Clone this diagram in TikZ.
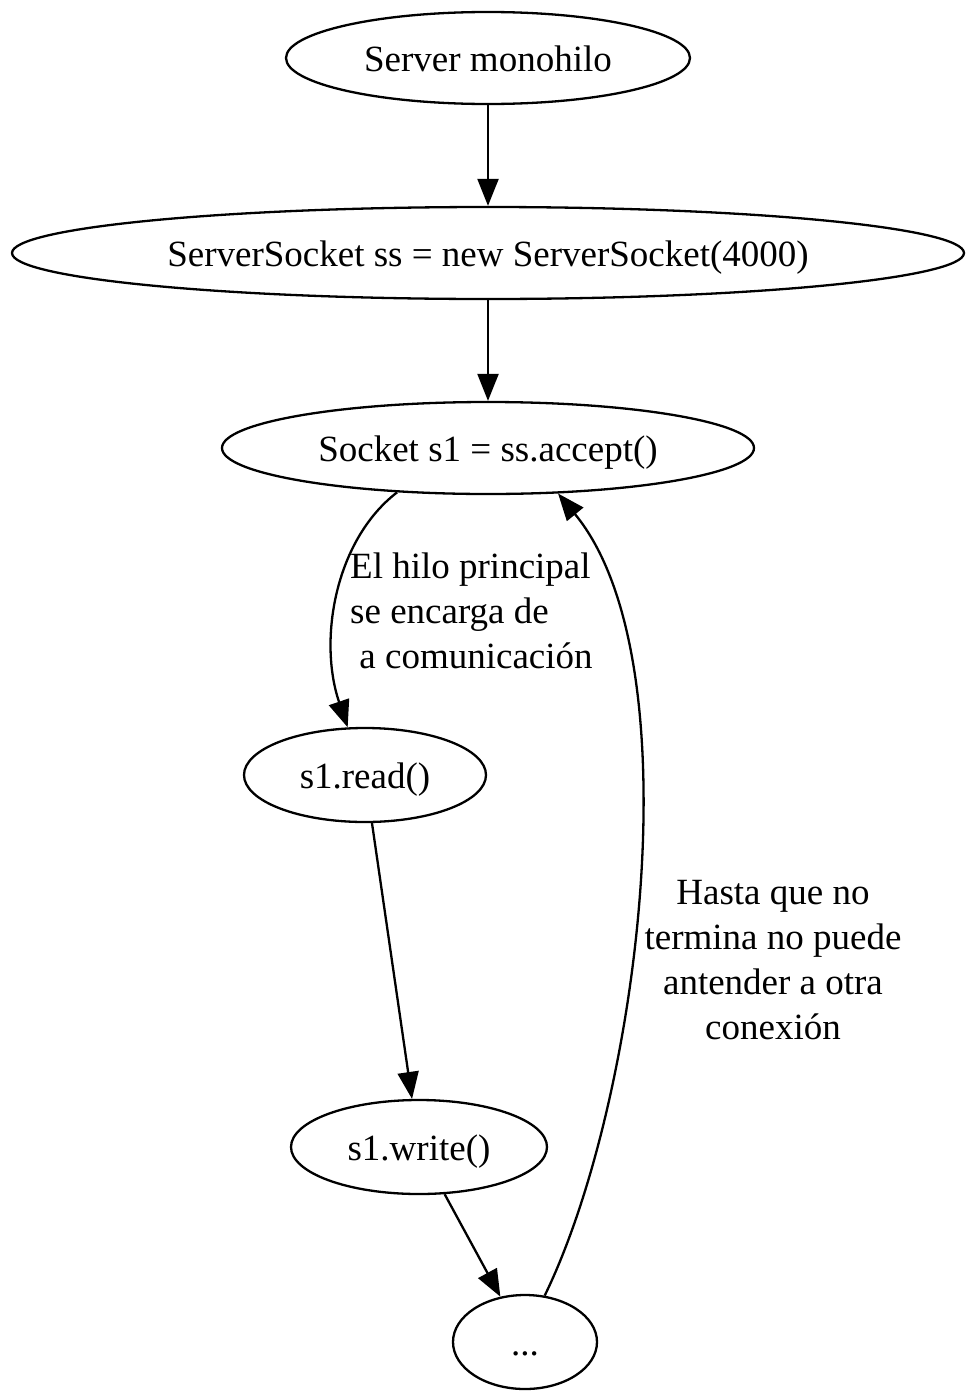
\documentclass[tikz,border=0pt]{standalone}
\usepackage{fontspec}
\setmainfont{Liberation Serif}
\usetikzlibrary{shapes.geometric,arrows.meta}
\begin{document}
\begin{tikzpicture}[x=1pt,y=-1pt,
  every node/.style={font=\fontsize{37}{45}\selectfont},
  ell/.style={ellipse,draw,line width=2.3pt,inner sep=0pt,text height=26pt,text depth=0pt},
  edge/.style={line width=2.3pt,-{Triangle[length=27pt,width=21pt]}},
  lbl/.style={inner sep=0pt}]
\useasboundingbox (0,0) rectangle (967,1392);
\node[ell,minimum width=404pt,minimum height=92pt] (n1) at (488,58) {Server monohilo};
\node[ell,minimum width=952pt,minimum height=92pt] (n2) at (488,253) {ServerSocket ss = new ServerSocket(4000)};
\node[ell,minimum width=532pt,minimum height=92pt] (n3) at (488,448) {Socket s1 = ss.accept()};
\node[ell,minimum width=242pt,minimum height=94pt] (n4) at (365,775) {s1.read()};
\node[ell,minimum width=256pt,minimum height=94pt] (n5) at (419,1147) {s1.write()};
\node[ell,minimum width=144pt,minimum height=94pt] (n6) at (525,1342) {...};
\draw[edge] (n1) -- (n2);
\draw[edge] (n2) -- (n3);
\draw[edge] (n3.206) .. controls (335,540) and (318,640) .. (n4.110);
\draw[edge] (n4) -- (n5);
\draw[edge] (n5) -- (n6);
\draw[edge] (n6.67) .. controls (640,1100) and (695,660) .. (n3.327);
\node[lbl,align=left,anchor=north west] (l1) at (350,553) {El hilo principal\\se encarga de\\\ a comunicación};
\node[lbl,align=center,anchor=north] (l2) at (773,880) {Hasta que no\\termina no puede\\antender a otra\\conexión};
\end{tikzpicture}
\end{document}
